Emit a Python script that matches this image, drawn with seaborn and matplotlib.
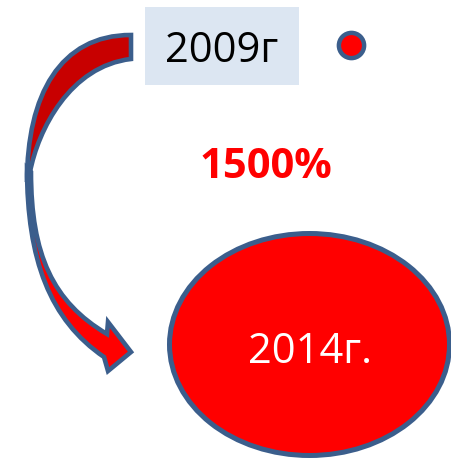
import matplotlib
matplotlib.use("Agg")
import matplotlib.pyplot as plt
from matplotlib.patches import Ellipse, Rectangle, PathPatch
from matplotlib.path import Path
import seaborn as sns
import pandas as pd

# Labels and figures shown
years = ["2009г", "2014г."]
growth_label = "1500%"

RED = "#FF0000"
DARK_RED = "#C80000"
EDGE = "#3B5E8C"
BOX = "#DCE6F2"

sns.set_theme(style="white")
plt.rcParams["font.family"] = ["Open Sans", "DejaVu Sans"]

fig = plt.figure(figsize=(4.52, 4.61), dpi=100)
ax = fig.add_axes([0, 0, 1, 1])
ax.set_xlim(0, 452)
ax.set_ylim(461, 0)
ax.axis("off")

# Label box for the start year
ax.add_patch(Rectangle((145, 7), 154, 78, facecolor=BOX, edgecolor="none", zorder=1))
ax.text(222, 62, years[0], ha="center", va="baseline", fontsize=30, color="black", zorder=3)

# Small marker for the start year
dot = pd.DataFrame({"x": [351], "y": [45]})
sns.scatterplot(data=dot, x="x", y="y", ax=ax, s=330, color=RED,
                edgecolor=EDGE, linewidth=3.2, zorder=3, legend=False)

# Growth figure
ax.text(266, 178, growth_label, ha="center", va="baseline", fontsize=30,
        fontweight="bold", color=RED, zorder=3)

# Large ellipse for the end year
ax.add_patch(Ellipse((309.5, 344.5), 280, 222, facecolor=RED, edgecolor=EDGE,
                     linewidth=3.6, zorder=2))
ax.text(310, 363, years[1], ha="center", va="baseline", fontsize=30, color="white", zorder=3)

M, C, L, Z = Path.MOVETO, Path.CURVE4, Path.LINETO, Path.CLOSEPOLY
ARROW_LW = 3.3

# Curved arrow: back (shaded) part, tapering to a point
back_verts = [
    (131, 35), (60, 35), (27, 95), (27, 182),
    (30, 172), (38, 130), (70, 66), (131, 59),
    (131, 35), (131, 35),
]
back_codes = [M, C, C, C, L, C, C, C, L, Z]
ax.add_patch(PathPatch(Path(back_verts, back_codes), facecolor=DARK_RED,
                       edgecolor=EDGE, linewidth=ARROW_LW, joinstyle="miter", zorder=2))

# Curved arrow: front part with head
front_verts = [
    (27, 168), (27, 260), (50, 320), (104, 357),
    (108, 371), (131, 352), (108, 322), (107, 334),
    (53, 302), (31, 255), (31, 172),
    (27, 168), (27, 168),
]
front_codes = [M, C, C, C, L, L, L, L, C, C, C, L, Z]
ax.add_patch(PathPatch(Path(front_verts, front_codes), facecolor=RED,
                       edgecolor=EDGE, linewidth=ARROW_LW, joinstyle="miter", zorder=2))

fig.savefig("out.png", dpi=100, facecolor="white")
